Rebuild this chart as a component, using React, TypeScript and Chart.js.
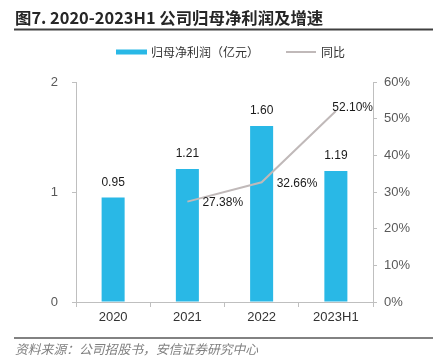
import React, { useEffect, useRef } from "react";
import { Chart, registerables } from "chart.js";

Chart.register(...registerables);

const categories = ["2020", "2021", "2022", "2023H1"];
const netProfit = [0.95, 1.21, 1.6, 1.19];
const yoyGrowth = [null, 0.2738, 0.3266, 0.521];
const leftTicks = [0, 1, 2];
const rightTicks = [0, 0.1, 0.2, 0.3, 0.4, 0.5, 0.6];

const TITLE = "图7. 2020-2023H1 公司归母净利润及增速";
const SOURCE = "资料来源：公司招股书，安信证券研究中心";
const LEGEND_BAR = "归母净利润（亿元）";
const LEGEND_LINE = "同比";

const BAR_COLOR = "#29b8e6";
const LINE_COLOR = "#c0b9b9";
const AXIS_COLOR = "#bfbfbf";
const CJK = '"Noto Sans CJK SC", sans-serif';
const LAT = '"Liberation Sans", Arial, sans-serif';

const decorPlugin = {
  id: "decor",
  afterDraw(chart: any) {
    const ctx = chart.ctx as CanvasRenderingContext2D;
    const area = chart.chartArea;
    ctx.save();
    // Title
    ctx.fillStyle = "#262626";
    ctx.textBaseline = "middle";
    ctx.textAlign = "left";
    ctx.font = `bold 16.4px ${CJK}`;
    ctx.fillText(TITLE, 15, 18);
    ctx.strokeStyle = "#404040";
    ctx.lineWidth = 2;
    ctx.beginPath();
    ctx.moveTo(14, 29.5);
    ctx.lineTo(433, 29.5);
    ctx.stroke();

    // Legend
    ctx.fillStyle = BAR_COLOR;
    ctx.fillRect(116, 49.5, 31, 5);
    ctx.fillStyle = "#333333";
    ctx.font = `12px ${CJK}`;
    ctx.fillText(LEGEND_BAR, 151, 52.5);
    ctx.strokeStyle = LINE_COLOR;
    ctx.lineWidth = 2;
    ctx.beginPath();
    ctx.moveTo(286, 52);
    ctx.lineTo(316, 52);
    ctx.stroke();
    ctx.fillText(LEGEND_LINE, 321, 52.5);

    // Footer
    ctx.strokeStyle = "#595959";
    ctx.lineWidth = 1.5;
    ctx.beginPath();
    ctx.moveTo(14, 338);
    ctx.lineTo(433, 338);
    ctx.stroke();
    ctx.fillStyle = "#7f7f7f";
    ctx.font = `italic 12.8px ${CJK}`;
    ctx.fillText(SOURCE, 15, 349);

    // Bar labels
    ctx.fillStyle = "#1a1a1a";
    ctx.font = `12px ${LAT}`;
    ctx.textAlign = "center";
    const barMeta = chart.getDatasetMeta(0);
    barMeta.data.forEach((el: any, i: number) => {
      ctx.fillText(netProfit[i].toFixed(2), el.x, el.y - 15);
    });

    // Line labels
    ctx.textAlign = "left";
    const lineMeta = chart.getDatasetMeta(1);
    lineMeta.data.forEach((el: any, i: number) => {
      const v = yoyGrowth[i];
      if (v == null) return;
      const txt = (v * 100).toFixed(2) + "%";
      const w = ctx.measureText(txt).width;
      let x = el.x + 15;
      let y = el.y + 1;
      if (x + w > area.right) {
        x = area.right - w;
        y = el.y - 3;
      }
      ctx.fillText(txt, x, y);
    });
    ctx.restore();
  },
};

export default function App() {
  const ref = useRef<HTMLCanvasElement | null>(null);
  useEffect(() => {
    if (!ref.current) return;
    const chart = new Chart(ref.current, {
      type: "bar",
      data: {
        labels: categories,
        datasets: [
          {
            type: "bar",
            label: LEGEND_BAR,
            data: netProfit,
            backgroundColor: BAR_COLOR,
            yAxisID: "y",
            categoryPercentage: 1,
            barPercentage: 0.31,
            order: 2,
          },
          {
            type: "line",
            label: LEGEND_LINE,
            data: yoyGrowth as any,
            borderColor: LINE_COLOR,
            borderWidth: 2,
            pointRadius: 0,
            tension: 0,
            yAxisID: "y1",
            order: 1,
          },
        ],
      },
      options: {
        animation: false,
        responsive: false,
        devicePixelRatio: 1,
        layout: { padding: { top: 82, left: 0, right: 0, bottom: 0 } },
        plugins: {
          legend: { display: false },
          title: { display: false },
          tooltip: { enabled: false },
        },
        scales: {
          x: {
            afterFit: (s: any) => {
              s.height = 61;
            },
            grid: {
              offset: true,
              drawOnChartArea: false,
              tickLength: 5,
              color: AXIS_COLOR,
            },
            border: { color: AXIS_COLOR, width: 1 },
            ticks: {
              color: "#333333",
              padding: 3,
              font: { family: LAT, size: 13 },
            },
          },
          y: {
            position: "left",
            min: 0,
            max: 2,
            afterFit: (s: any) => {
              s.width = 76;
            },
            afterBuildTicks: (s: any) => {
              s.ticks = leftTicks.map((v) => ({ value: v }));
            },
            grid: { drawOnChartArea: false, tickLength: 4, color: AXIS_COLOR },
            border: { color: AXIS_COLOR, width: 1 },
            ticks: {
              color: "#595959",
              padding: 14,
              font: { family: LAT, size: 13 },
              callback: (v: any) => String(v),
            },
          },
          y1: {
            position: "right",
            min: 0,
            max: 0.6,
            afterFit: (s: any) => {
              s.width = 75;
            },
            afterBuildTicks: (s: any) => {
              s.ticks = rightTicks.map((v) => ({ value: v }));
            },
            grid: { drawOnChartArea: false, tickLength: 4, color: AXIS_COLOR },
            border: { color: AXIS_COLOR, width: 1 },
            ticks: {
              color: "#595959",
              padding: 7,
              font: { family: LAT, size: 13 },
              callback: (v: any) => Math.round(Number(v) * 100) + "%",
            },
          },
        },
      },
      plugins: [decorPlugin],
    });
    return () => chart.destroy();
  }, []);
  return (
    <div style={{ position: "absolute", left: 0, top: 0, width: 448, height: 363, background: "#fff" }}>
      <canvas ref={ref} width={448} height={363} style={{ width: 448, height: 363 }} />
    </div>
  );
}
